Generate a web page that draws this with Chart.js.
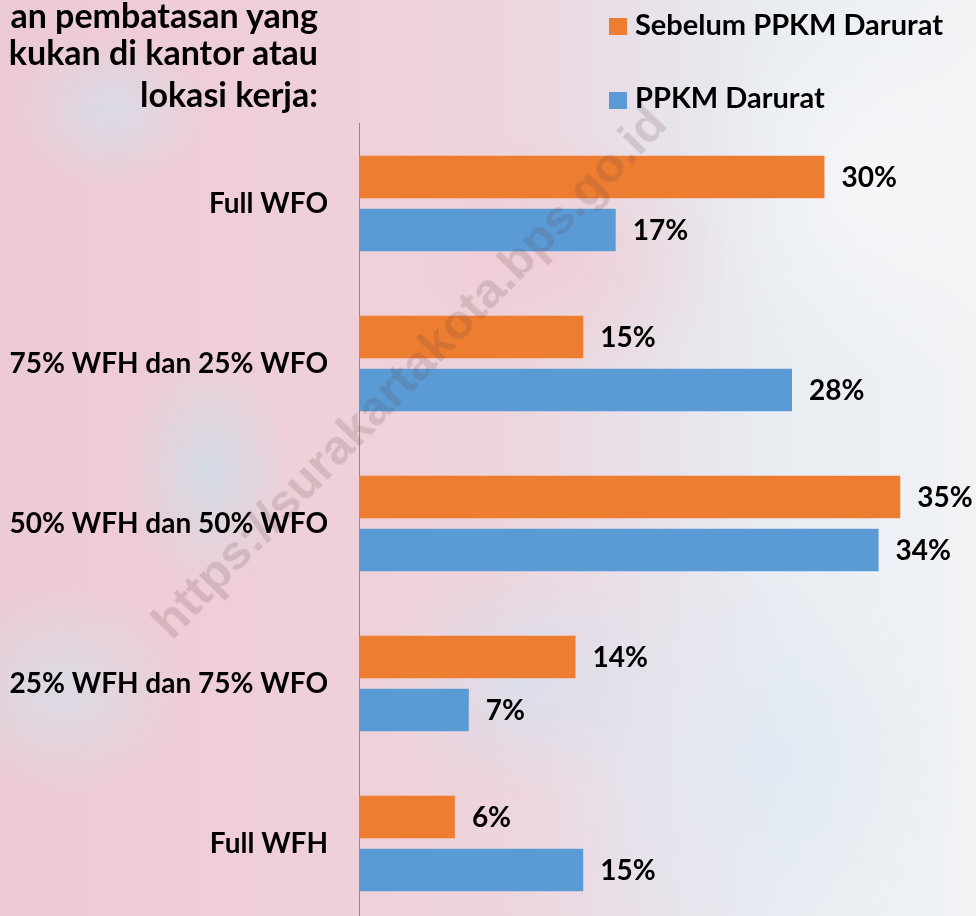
<!DOCTYPE html>
<html>
<head>
<meta charset="utf-8">
<script src="https://cdn.jsdelivr.net/npm/chart.js@4/dist/chart.umd.min.js"></script>
<style>
  html, body { margin: 0; padding: 0; width: 976px; height: 916px; overflow: hidden; }
  body {
    position: relative;
    font-family: "Lato", "Open Sans", sans-serif;
    background:
      radial-gradient(ellipse 140px 110px at 110px 110px, rgba(205,228,242,0.6), rgba(205,228,242,0) 70%),
      radial-gradient(ellipse 120px 170px at 210px 470px, rgba(195,228,238,0.6), rgba(195,228,238,0) 70%),
      radial-gradient(ellipse 180px 150px at 60px 690px, rgba(205,232,242,0.55), rgba(205,232,242,0) 70%),
      radial-gradient(ellipse 200px 170px at 520px 680px, rgba(212,226,240,0.7), rgba(212,226,240,0) 70%),
      radial-gradient(ellipse 240px 180px at 560px 260px, rgba(242,196,206,0.55), rgba(242,196,206,0) 70%),
      radial-gradient(ellipse 260px 300px at 880px 180px, rgba(245,246,248,0.9), rgba(245,246,248,0) 70%),
      radial-gradient(ellipse 300px 260px at 760px 760px, rgba(225,232,242,0.8), rgba(225,232,242,0) 70%),
      linear-gradient(90deg, #eccad3 0%, #efcfd8 30%, #eed3db 50%, #e8dfe8 64%, #e8edf2 80%, #f1f3f5 100%);
  }
  #wrap { position: absolute; left: 0; top: 0; width: 976px; height: 1000px; }
  .title { position: absolute; right: 658px; white-space: nowrap; font-weight: 700; font-size: 34px; color: #000; text-align: right; line-height: 1; }
  .leg { position: absolute; left: 635px; white-space: nowrap; font-weight: 700; font-size: 29px; color: #000; line-height: 1; }
  .sw { position: absolute; left: 609px; width: 18px; height: 17px; }
  #wm { position: absolute; left: 160px; top: 605px; transform-origin: 0 50%; transform: rotate(-46deg);
        font-family: "Liberation Sans", Arial, sans-serif; font-weight: 700; font-size: 49px; line-height: 1;
        color: rgba(90, 60, 60, 0.17); white-space: nowrap; pointer-events: none; }
</style>
</head>
<body>
<div id="wrap"><canvas id="c" width="976" height="1000"></canvas></div>
<div class="title" style="top:-2px;">an pembatasan yang</div>
<div class="title" style="top:35px;">kukan di kantor atau</div>
<div class="title" style="top:77px;">lokasi kerja:</div>
<div id="legend"></div>
<div id="wm">https://surakartakota.bps.go.id</div>
<script>
const categories = ["Full WFO", "75% WFH dan 25% WFO", "50% WFH dan 50% WFO", "25% WFH dan 75% WFO", "Full WFH"];
const seriesNames = ["Sebelum PPKM Darurat", "PPKM Darurat"];
const sebelumPPKM = [30.1, 14.5, 35.0, 14.0, 6.2];
const selamaPPKM = [16.6, 28.0, 33.6, 7.1, 14.5];
const seriesColors = ["#ED7D31", "#5B9BD5"];

const FONT = { family: "Lato, 'Open Sans', sans-serif", weight: "bold", size: 28 };

const dataLabels = {
  id: "dataLabels",
  afterDatasetsDraw(chart) {
    const ctx = chart.ctx;
    ctx.save();
    ctx.font = "bold 28px Lato, 'Open Sans', sans-serif";
    ctx.fillStyle = "#000";
    ctx.textAlign = "left";
    ctx.textBaseline = "middle";
    chart.data.datasets.forEach((ds, i) => {
      const meta = chart.getDatasetMeta(i);
      meta.data.forEach((bar, j) => {
        ctx.fillText(Math.round(ds.data[j]) + "%", bar.x + 17, bar.y + 1);
      });
    });
    ctx.restore();
  }
};

const chart = new Chart(document.getElementById("c"), {
  type: "bar",
  data: {
    labels: categories,
    datasets: [
      { label: seriesNames[0], data: sebelumPPKM, backgroundColor: seriesColors[0] },
      { label: seriesNames[1], data: selamaPPKM, backgroundColor: seriesColors[1] }
    ]
  },
  options: {
    indexAxis: "y",
    responsive: false,
    animation: false,
    events: [],
    categoryPercentage: 0.6625,
    barPercentage: 0.8,
    layout: { padding: { top: 123.5, bottom: 76.5, left: 0, right: 13.9 } },
    plugins: { legend: { display: false }, tooltip: { enabled: false } },
    scales: {
      x: { display: false, min: 0, max: 39 },
      y: {
        position: "left",
        grid: { display: false, drawTicks: false },
        border: { display: true, color: "#8a8a8a", width: 1 },
        ticks: { color: "#000", font: FONT, padding: 31 },
        afterFit(scale) { scale.width = 359; }
      }
    }
  },
  plugins: [dataLabels]
});

// legend from the dataset definitions
const legendTextTops = [9, 82];
const swatchTops = [18, 92];
const legendEl = document.getElementById("legend");
chart.data.datasets.forEach((ds, i) => {
  const sw = document.createElement("div");
  sw.className = "sw";
  sw.style.top = swatchTops[i] + "px";
  sw.style.background = ds.backgroundColor;
  legendEl.appendChild(sw);
  const d = document.createElement("div");
  d.className = "leg";
  d.style.top = legendTextTops[i] + "px";
  d.textContent = ds.label;
  legendEl.appendChild(d);
});
</script>
</body>
</html>
